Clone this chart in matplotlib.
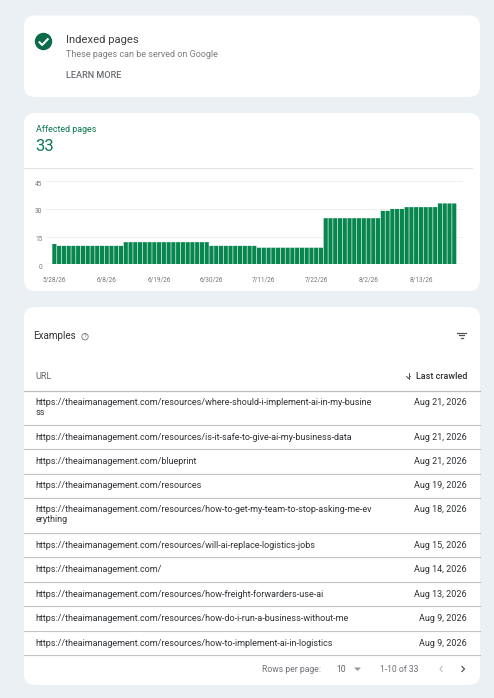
import matplotlib
matplotlib.use('Agg')
import matplotlib.pyplot as plt
from matplotlib.patches import FancyBboxPatch, Circle
from matplotlib.transforms import ScaledTranslation

plt.rcParams['font.family'] = ['Roboto', 'DejaVu Sans']

W, H = 494, 698

# daily counts 5/28 to 8/20
counts = [11,
          10, 10, 10, 10, 10, 10, 10, 10, 10, 10, 10, 10, 10, 10,
          12, 12, 12, 12, 12, 12, 12, 12, 12, 12, 12, 12, 12, 12, 12, 12, 12, 12,
          10, 10, 10, 10, 10, 10, 10, 10, 10, 10,
          9, 9, 9, 9, 9, 9, 9, 9, 9, 9, 9, 9, 9, 9,
          25, 25, 25, 25, 25, 25, 25, 25, 25, 25, 25, 25,
          29, 29,
          30, 30, 30,
          31, 31, 31, 31, 31, 31, 31,
          33, 33, 33, 33]
xtick_pos = [0, 11, 22, 33, 44, 55, 66, 77]
xtick_labels = ['5/28/26', '6/8/26', '6/19/26', '6/30/26', '7/11/26', '7/22/26', '8/2/26', '8/13/26']
ytick_vals = [0, 15, 30, 45]

urls = ['https://theaimanagement.com/resources/where-should-i-implement-ai-in-my-busine\nss',
        'https://theaimanagement.com/resources/is-it-safe-to-give-ai-my-business-data',
        'https://theaimanagement.com/blueprint',
        'https://theaimanagement.com/resources',
        'https://theaimanagement.com/resources/how-to-get-my-team-to-stop-asking-me-ev\nerything',
        'https://theaimanagement.com/resources/will-ai-replace-logistics-jobs',
        'https://theaimanagement.com/',
        'https://theaimanagement.com/resources/how-freight-forwarders-use-ai',
        'https://theaimanagement.com/resources/how-do-i-run-a-business-without-me',
        'https://theaimanagement.com/resources/how-to-implement-ai-in-logistics']
crawled = ['Aug 21, 2026', 'Aug 21, 2026', 'Aug 21, 2026', 'Aug 19, 2026', 'Aug 18, 2026',
           'Aug 15, 2026', 'Aug 14, 2026', 'Aug 13, 2026', 'Aug 9, 2026', 'Aug 9, 2026']
row_lines = [424.5, 449, 473.5, 497.5, 532.5, 557, 582, 606, 630.5, 655]

fig = plt.figure(figsize=(W / 100, H / 100), dpi=100, facecolor='#ebf0f5')

# whole page in pixel coordinates
page = fig.add_axes([0, 0, 1, 1])
page.set_xlim(0, W)
page.set_ylim(H, 0)
page.axis('off')


def card(y0, y1):
    page.add_patch(FancyBboxPatch((24 + 11, y0 + 11), 456 - 22, y1 - y0 - 22,
                                  boxstyle='round,pad=11,rounding_size=11',
                                  fc='white', ec='none'))


def label(x, y, s, size, color, **kw):
    # roboto sits a bit high with va=center
    page.text(x, y + 0.8, s, fontsize=size, color=color, va='center', **kw)


card(15.5, 97)
card(113, 291)
card(307, 685)

# status card
page.add_patch(Circle((43.5, 41.5), 8.7, fc='#0b6b48', ec='none'))
page.plot([38.8, 42.2, 48.4], [41.6, 45, 38.4], color='white', lw=1.5, solid_capstyle='butt')
label(65.5, 39, 'Indexed pages', 8.1, '#3c4043')
label(65.5, 53.5, 'These pages can be served on Google', 6.5, '#7a7d81')
label(65.5, 75, 'LEARN MORE', 6.6, '#6a6d71', fontweight='medium')

# chart card
label(35.5, 128.5, 'Affected pages', 6.4, '#0b7a50')
label(35.5, 146, '33', 12, '#0b7a50')
page.plot([24, 472], [168, 168], color='#e3e3e3', lw=0.8)

ax = fig.add_axes([46 / W, 1 - 264.3 / H, (463 - 46) / W, 83 / H])
bars = ax.bar(range(len(counts)), counts, width=0.87, color='#08864f')
for b in bars:
    b.set_snap(False)
ax.set_xlim(-1.76, 85.84)
ax.set_ylim(0, 45)
ax.set_facecolor('none')
for s in ax.spines.values():
    s.set_visible(False)
ax.set_yticks(ytick_vals)
ax.set_xticks(xtick_pos)
ax.set_xticklabels(xtick_labels)
ax.tick_params(length=0, labelsize=4.7, labelcolor='#777777')
ax.tick_params(axis='x', pad=9)
ax.tick_params(axis='y', pad=2.5)
shift = ScaledTranslation(0, -2 / 100, fig.dpi_scale_trans)
for t in ax.get_yticklabels():
    t.set_transform(t.get_transform() + shift)
ax.set_axisbelow(True)
ax.grid(axis='y', color='#eeeeee', lw=0.6)
ax.axhline(0, color='#d0d0d0', lw=1, zorder=0)

# table card
label(33.5, 335.3, 'Examples', 7.1, '#303336')
page.add_patch(Circle((85, 336.7), 3.2, fc='none', ec='#777777', lw=0.6))
page.text(85, 336.8, '?', fontsize=4, color='#777777', va='center', ha='center')
for yy, x0, x1 in [(332.5, 457, 466), (335, 459, 464), (337.5, 460.5, 462.5)]:
    page.plot([x0, x1], [yy, yy], color='#50565c', lw=0.9)

label(35.5, 375.5, 'URL', 6.6, '#5f6368')
label(467, 375.5, 'Last crawled', 6.5, '#303336', ha='right', fontweight='medium')
page.plot([408.5, 408.5], [373, 378.5], color='#555555', lw=0.7)
page.plot([406.6, 408.5, 410.4], [376.4, 378.5, 376.4], color='#555555', lw=0.7)
page.plot([24, 480], [390.5, 390.5], color='#bdbdbd', lw=0.9)

row_top = 390.5
for url, day, bottom in zip(urls, crawled, row_lines):
    first = url.split('\n')[0]
    wrapped = '\n' in url
    ymid = row_top + 11 if wrapped else (row_top + bottom) / 2 - 0.3
    label(35.5, ymid, first, 6.45, '#303336')
    if wrapped:
        label(35.5, ymid + 10.5, url.split('\n')[1], 6.45, '#303336')
    label(467, ymid, day, 6.45, '#303336', ha='right')
    page.plot([24, 480], [bottom, bottom], color='#c4c4c4', lw=0.8)
    row_top = bottom

# pagination
label(291, 668.5, 'Rows per page:', 6.2, '#6f7276', ha='center')
label(341, 668.5, '10', 6.2, '#5f6368', ha='center')
page.fill([354, 361, 357.5], [667.5, 667.5, 671], color='#9a9a9a', lw=0)
label(399, 668.5, '1-10 of 33', 6.2, '#6f7276', ha='center')
page.plot([442, 440, 442], [666.5, 669, 671.5], color='#bdbdbd', lw=0.8)
page.plot([462, 464.5, 462], [666.5, 669, 671.5], color='#50565c', lw=0.9)

fig.savefig('out.png', dpi=100)
